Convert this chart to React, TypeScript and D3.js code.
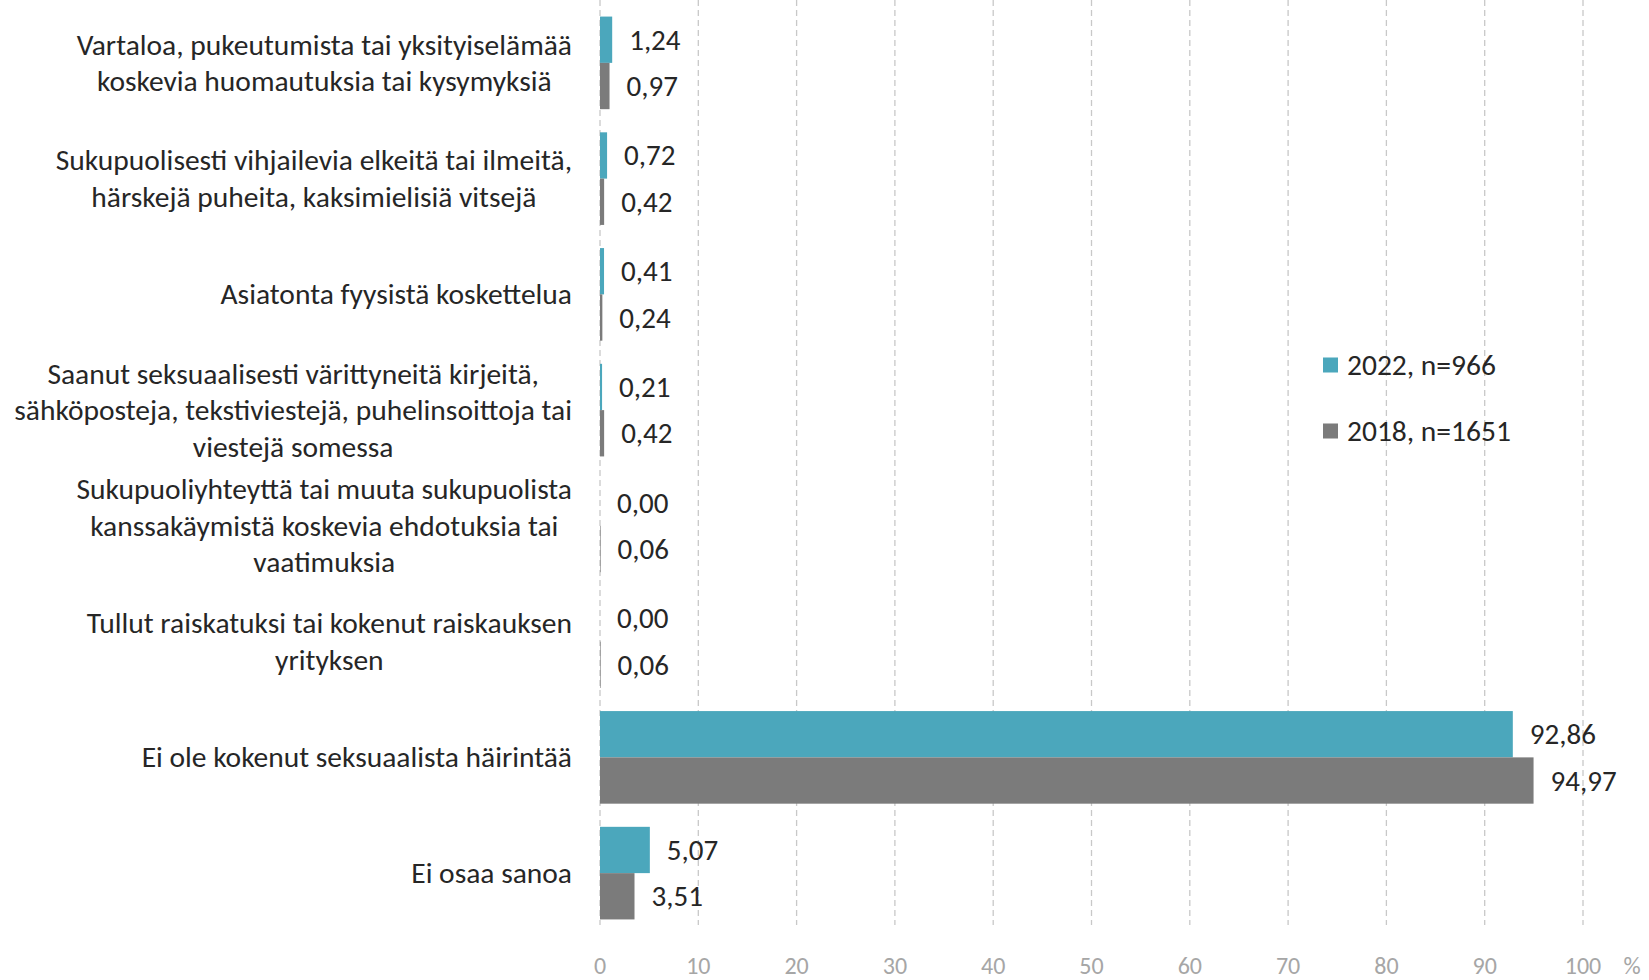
import React, { useEffect, useRef } from "react";
import * as d3 from "d3";

const categories: string[][] = [
  ["Vartaloa, pukeutumista tai yksityiselämää", "koskevia huomautuksia tai kysymyksiä"],
  ["Sukupuolisesti vihjailevia elkeitä tai ilmeitä,", "härskejä puheita, kaksimielisiä vitsejä"],
  ["Asiatonta fyysistä koskettelua"],
  ["Saanut seksuaalisesti värittyneitä kirjeitä,", "sähköposteja, tekstiviestejä, puhelinsoittoja tai", "viestejä somessa"],
  ["Sukupuoliyhteyttä tai muuta sukupuolista", "kanssakäymistä koskevia ehdotuksia tai", "vaatimuksia"],
  ["Tullut raiskatuksi tai kokenut raiskauksen", "yrityksen"],
  ["Ei ole kokenut seksuaalista häirintää"],
  ["Ei osaa sanoa"],
];
const values2022: number[] = [1.24, 0.72, 0.41, 0.21, 0.0, 0.0, 92.86, 5.07];
const values2018: number[] = [0.97, 0.42, 0.24, 0.42, 0.06, 0.06, 94.97, 3.51];
const seriesNames: string[] = ["2022, n=966", "2018, n=1651"];
const seriesColors: string[] = ["#4BA7BC", "#7B7B7B"];
const ticks: number[] = [0, 10, 20, 30, 40, 50, 60, 70, 80, 90, 100];

const W = 1649;
const H = 980;
const FONT = "Carlito, Calibri, Lato, 'Open Sans', sans-serif";

export default function App() {
  const ref = useRef<SVGSVGElement>(null);
  useEffect(() => {
    const svg = d3.select(ref.current);
    svg.selectAll("*").remove();
    const x0 = 600, x1 = 1583, yTop = 5, yBot = 931;
    const x = d3.scaleLinear().domain([0, 100]).range([x0, x1]);
    const y = d3.scaleBand<number>().domain(d3.range(categories.length)).range([yTop, yBot]).paddingInner(0.2).paddingOuter(0.1);
    const sub = d3.scaleBand<number>().domain([0, 1]).range([0, y.bandwidth()]);

    // gridlines
    svg.append("g").selectAll("line").data(ticks).join("line")
      .attr("x1", (d) => x(d)).attr("x2", (d) => x(d))
      .attr("y1", 0).attr("y2", 925)
      .attr("stroke", "#c8c8c8").attr("stroke-width", 1.3).attr("stroke-dasharray", "6,4");

    // tick labels
    svg.append("g").selectAll("text").data(ticks).join("text")
      .attr("x", (d) => x(d)).attr("y", 965).attr("text-anchor", "middle").attr("dominant-baseline", "central")
      .attr("font-family", FONT).attr("font-size", 24).attr("fill", "#a6a6a6").text((d) => String(d));
    svg.append("text").attr("x", 1632).attr("y", 965).attr("text-anchor", "middle").attr("dominant-baseline", "central")
      .attr("font-family", FONT).attr("font-size", 24).attr("fill", "#a6a6a6").text("%");

    const series = [values2022, values2018];
    const fmt = (v: number) => v.toFixed(2).replace(".", ",");
    series.forEach((vals, si) => {
      const g = svg.append("g");
      g.selectAll("rect").data(vals).join("rect")
        .attr("x", x(0)).attr("y", (_, i) => (y(i) as number) + (sub(si) as number))
        .attr("width", (d) => x(d) - x(0)).attr("height", sub.bandwidth())
        .attr("fill", seriesColors[si]);
      g.selectAll("text").data(vals).join("text")
        .attr("x", (d) => x(d) + 17).attr("y", (_, i) => (y(i) as number) + (sub(si) as number) + sub.bandwidth() / 2)
        .attr("dominant-baseline", "central").attr("font-family", FONT).attr("font-size", 29).attr("fill", "#262626")
        .text((d) => fmt(d));
    });

    // category labels
    const right = 572;
    const lh = 36.5;
    categories.forEach((lines, i) => {
      const cy = (y(i) as number) + y.bandwidth() / 2;
      const g = svg.append("g");
      const texts = lines.map((l, li) =>
        g.append("text").attr("y", cy + (li - (lines.length - 1) / 2) * lh)
          .attr("dominant-baseline", "central").attr("text-anchor", "middle")
          .attr("font-family", FONT).attr("font-size", 29.5).attr("fill", "#262626").text(l)
      );
      const maxW = d3.max(texts, (t) => (t.node() as SVGTextElement).getComputedTextLength()) || 0;
      texts.forEach((t) => t.attr("x", right - maxW / 2));
    });

    // legend
    const lg = svg.append("g");
    seriesNames.forEach((n, i) => {
      const cy = 365 + i * 66;
      lg.append("rect").attr("x", 1323).attr("y", cy - 7.5).attr("width", 15).attr("height", 15).attr("fill", seriesColors[i]);
      lg.append("text").attr("x", 1347).attr("y", cy).attr("dominant-baseline", "central")
        .attr("font-family", FONT).attr("font-size", 29.5).attr("fill", "#262626").text(n);
    });
  }, []);
  return (
    <svg ref={ref} width={W} height={H} style={{ position: "absolute", left: 0, top: 0, background: "#fff" }} />
  );
}
